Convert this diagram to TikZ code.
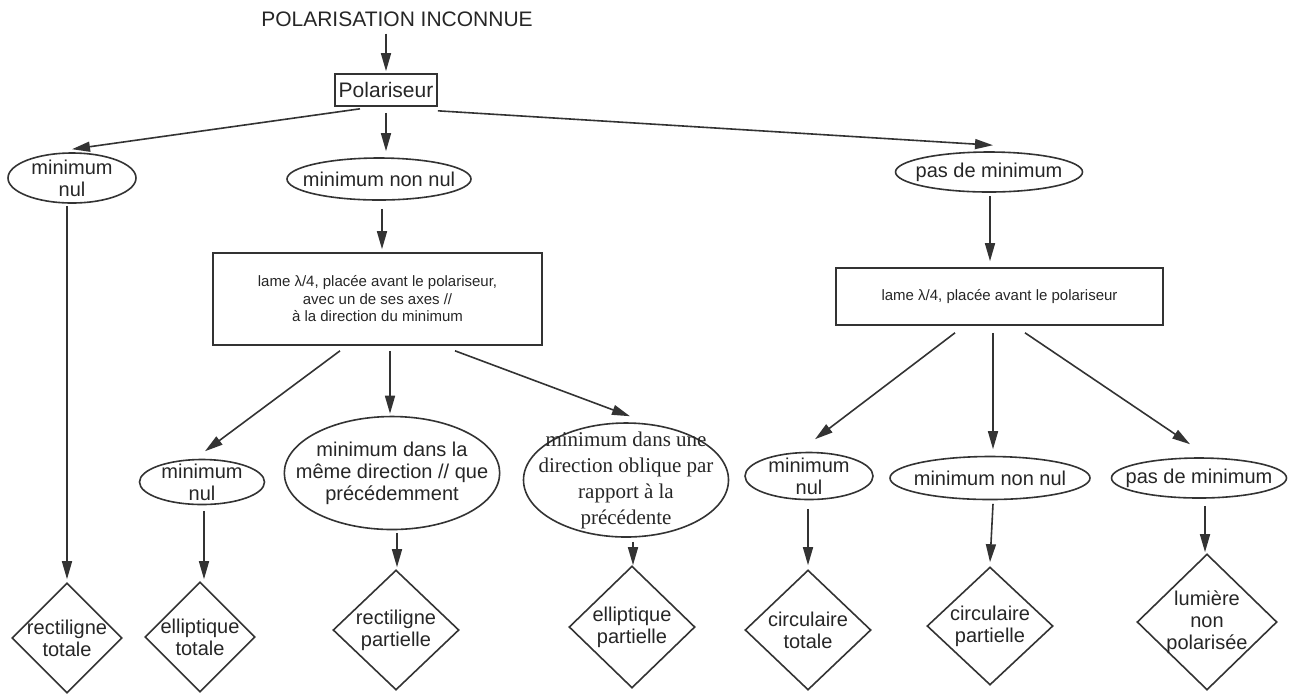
\documentclass[tikz,border=0pt]{standalone}
\usepackage{fontspec}
\setmainfont{Liberation Sans}
\newfontfamily\timesfont{Liberation Serif}
\usetikzlibrary{shapes.geometric, arrows.meta, positioning}

\begin{document}
\begin{tikzpicture}[
        x=0.5pt, y=-0.5pt,
        every node/.style={text=black!85},
        txt/.style={font=\fontsize{10}{11}\selectfont, align=center},
        box/.style={rectangle, draw=black!80, line width=0.8pt, inner sep=0pt, align=center, font=\fontsize{7.5}{8.75}\selectfont},
        state/.style={ellipse, draw=black!80, line width=0.8pt, inner xsep=-10pt, inner ysep=-8pt, txt},
        result/.style={diamond, draw=black!80, line width=0.8pt, inner sep=-3pt, txt},
        arrow/.style={-{Triangle[length=9pt, width=5pt]}, line width=0.8pt, draw=black!80}
    ]
    \useasboundingbox (0,0) rectangle (1304,693);

    % Nodes
    \node[font=\fontsize{10.5}{12}\selectfont] (title) at (397,19) {POLARISATION INCONNUE};
    \node[box, font=\fontsize{10.5}{12}\selectfont, minimum width=51pt, minimum height=16pt] (pol) at (386,90) {Polariseur};

    \node[state, minimum width=64pt, minimum height=25pt] (nul1) at (72,178) {minimum\\nul};
    \node[state, minimum width=92pt, minimum height=21pt] (nonnul1) at (379,179) {minimum non nul};
    \node[state, minimum width=93.5pt, minimum height=20pt] (pasmin1) at (989,172) {pas de minimum};

    \node[box, minimum width=164.5pt, minimum height=46pt] (lame1) at (377.5,299) {lame λ/4, placée avant le polariseur,\\avec un de ses axes //\\à la direction du minimum};
    \node[box, minimum width=163.5pt, minimum height=28.5pt] (lame2) at (999.5,296.5) {lame λ/4, placée avant le polariseur};

    \node[state, minimum width=62.5pt, minimum height=22.5pt] (nul2) at (202,482) {minimum\\nul};
    \node[state, minimum width=107.5pt, minimum height=56.5pt] (meme) at (392,473) {minimum dans la\\même direction // que\\précédemment};
    \node[state, minimum width=102.5pt, minimum height=57pt, font=\timesfont\fontsize{10.5}{13}\selectfont] (obl) at (626,480) {minimum dans une\\direction oblique par\\rapport à la\\précédente};
    \node[state, minimum width=64pt, minimum height=23.5pt] (nul3) at (809,476) {minimum\\nul};
    \node[state, minimum width=100pt, minimum height=21.5pt] (nonnul3) at (990,478) {minimum non nul};
    \node[state, minimum width=87.5pt, minimum height=20pt] (pasmin3) at (1199,478) {pas de minimum};

    \node[result, minimum width=55pt, minimum height=55pt] (rt) at (67,638) {rectiligne\\totale};
    \node[result, minimum width=55pt, minimum height=55pt] (et) at (200,637) {elliptique\\totale};
    \node[result, minimum width=63pt, minimum height=60pt] (rp) at (396,630) {rectiligne\\partielle};
    \node[result, minimum width=63pt, minimum height=61pt] (ep) at (632,627) {elliptique\\partielle};
    \node[result, minimum width=63pt, minimum height=60pt] (ct) at (808,630) {circulaire\\totale};
    \node[result, minimum width=63pt, minimum height=59pt] (cp) at (990,626) {circulaire\\partielle};
    \node[result, minimum width=70pt, minimum height=68pt] (lnp) at (1207,622) {lumière\\non\\polarisée};

    % Arrows
    \draw[arrow] (title.south -| pol.north) -- ([yshift=1pt]pol.north);
    \draw[arrow] ([xshift=-13pt,yshift=-1pt]pol.south) -- ([yshift=1.5pt]nul1.north);
    \draw[arrow] ([yshift=-3pt]pol.south) -- ([xshift=3.5pt,yshift=3pt]nonnul1.north);
    \draw[arrow] ([yshift=-2pt]pol.south east) -- ([xshift=2pt,yshift=3pt]pasmin1.north);

    \draw[arrow] ([xshift=-2.5pt,yshift=-1pt]nul1.south) -- ([yshift=1.5pt]rt.north);
    \draw[arrow] ([xshift=1.5pt,yshift=-4pt]nonnul1.south) -- ([xshift=2.25pt,yshift=1.5pt]lame1.north);
    \draw[arrow] ([xshift=0.5pt,yshift=-1.5pt]pasmin1.south) -- ([xshift=-4.75pt,yshift=3pt]lame2.north);

    \draw[arrow] ([xshift=-18.75pt,yshift=-2.5pt]lame1.south) -- ([xshift=1.5pt,yshift=3.75pt]nul2.north);
    \draw[arrow] ([xshift=6.25pt,yshift=-2.5pt]lame1.south) -- ([xshift=-1pt,yshift=1pt]meme.north);
    \draw[arrow] ([xshift=38.75pt,yshift=-2.5pt]lame1.south) -- ([xshift=2pt,yshift=3pt]obl.north);

    \draw[arrow] ([xshift=-22.25pt,yshift=-3.5pt]lame2.south) -- ([xshift=3pt,yshift=6.25pt]nul3.north);
    \draw[arrow] ([xshift=-3.25pt,yshift=-3.5pt]lame2.south) -- ([xshift=1.5pt,yshift=3.25pt]nonnul3.north);
    \draw[arrow] ([xshift=12.75pt,yshift=-3.5pt]lame2.south) -- ([xshift=-4.5pt,yshift=6.5pt]pasmin3.north);

    \draw[arrow] ([xshift=1pt,yshift=-2.75pt]nul2.south) -- ([xshift=2pt,yshift=1pt]et.north);
    \draw[arrow] ([xshift=2.5pt,yshift=-1.25pt]meme.south) -- ([xshift=0.5pt,yshift=1pt]rp.north);
    \draw[arrow] ([xshift=3.5pt,yshift=-2pt]obl.south) -- ([xshift=0.5pt]ep.north);
    \draw[arrow] ([xshift=-0.5pt,yshift=-4.25pt]nul3.south) -- ([yshift=2pt]ct.north);
    \draw[arrow] ([xshift=1.5pt,yshift=-1.75pt]nonnul3.south) -- ([yshift=2pt]cp.north);
    \draw[arrow] ([xshift=3pt,yshift=-3.5pt]pasmin3.south) -- ([xshift=-1pt,yshift=0.5pt]lnp.north);

\end{tikzpicture}
\end{document}
